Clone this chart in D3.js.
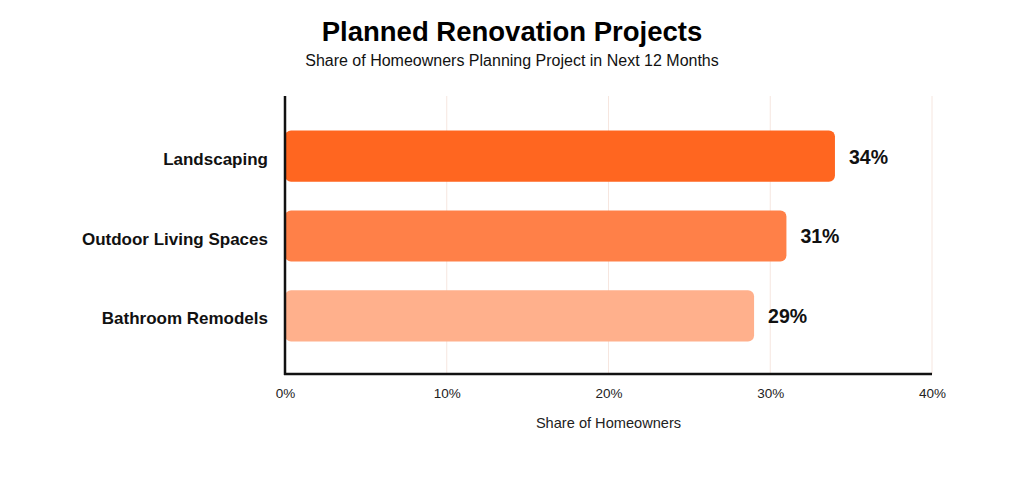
<!DOCTYPE html>
<html>
<head>
<meta charset="utf-8">
<script src="https://cdn.jsdelivr.net/npm/d3@7"></script>
<style>
  body { margin: 0; background: #fff; }
  text { font-family: "Liberation Sans", Arial, sans-serif; }
</style>
</head>
<body>
<svg id="chart" width="1024" height="478"></svg>
<script>
// data
const categories = ['Landscaping', 'Outdoor Living Spaces', 'Bathroom Remodels'];
const shares = [34, 31, 29];
const barColors = ['#ff6620', '#ff8048', '#ffb08c'];
const tickValues = [0, 10, 20, 30, 40];

const svg = d3.select('#chart');

const plotTop = 96, plotBottom = 374;
const plotLeft = 285, plotRight = 932;

const xScale = d3.scaleLinear()
    .domain([0, 40])
    .range([plotLeft, plotRight]);

const yScale = d3.scaleBand()
    .domain(categories)
    .range([plotTop + 1, plotBottom + 1])
    .paddingInner(0.36)
    .paddingOuter(0.42);

// gridlines
svg.append('g')
    .selectAll('line')
    .data(tickValues.slice(1))
    .enter().append('line')
    .attr('x1', d => xScale(d))
    .attr('x2', d => xScale(d))
    .attr('y1', plotTop)
    .attr('y2', plotBottom)
    .attr('stroke', '#f6e6df')
    .attr('stroke-width', 1);

// bars
svg.append('g')
    .selectAll('rect')
    .data(categories)
    .enter().append('rect')
    .attr('x', xScale(0))
    .attr('y', d => yScale(d))
    .attr('width', (d, i) => xScale(shares[i]) - xScale(0))
    .attr('height', yScale.bandwidth())
    .attr('rx', 6)
    .attr('ry', 6)
    .attr('fill', (d, i) => barColors[i]);

// value labels
svg.append('g')
    .selectAll('text')
    .data(categories)
    .enter().append('text')
    .attr('x', (d, i) => xScale(shares[i]) + 14)
    .attr('y', d => yScale(d) + yScale.bandwidth() / 2)
    .attr('dy', '0.38em')
    .attr('font-size', 19.5)
    .attr('font-weight', 'bold')
    .attr('fill', '#111')
    .text((d, i) => shares[i] + '%');

// y axis (category labels)
const yAxis = svg.append('g')
    .attr('transform', `translate(${plotLeft},0)`)
    .call(d3.axisLeft(yScale).tickSize(0).tickPadding(17));
yAxis.select('.domain').remove();
yAxis.selectAll('text')
    .attr('dy', '0.5em')
    .attr('font-size', 17)
    .attr('font-weight', 'bold')
    .attr('fill', '#111')
    .style('font-family', '"Liberation Sans", Arial, sans-serif');

// axis lines
svg.append('line')
    .attr('x1', plotLeft).attr('x2', plotLeft)
    .attr('y1', plotTop).attr('y2', plotBottom + 1)
    .attr('stroke', '#111').attr('stroke-width', 2.5);
svg.append('line')
    .attr('x1', plotLeft - 1).attr('x2', plotRight)
    .attr('y1', plotBottom).attr('y2', plotBottom)
    .attr('stroke', '#111').attr('stroke-width', 2.5);

// x axis ticks
const xAxis = svg.append('g')
    .attr('transform', `translate(0,${plotBottom})`)
    .call(d3.axisBottom(xScale).tickValues(tickValues).tickSize(0).tickPadding(14)
        .tickFormat(d => d + '%'));
xAxis.select('.domain').remove();
xAxis.selectAll('text')
    .attr('font-size', 13.5)
    .attr('fill', '#222')
    .style('font-family', '"Liberation Sans", Arial, sans-serif');

// axis title
svg.append('text')
    .attr('x', (plotLeft + plotRight) / 2)
    .attr('y', 428)
    .attr('text-anchor', 'middle')
    .attr('font-size', 14.6)
    .attr('fill', '#222')
    .text('Share of Homeowners');

// titles
svg.append('text')
    .attr('x', 512)
    .attr('y', 41)
    .attr('text-anchor', 'middle')
    .attr('font-size', 27.5)
    .attr('font-weight', 'bold')
    .attr('fill', '#000')
    .text('Planned Renovation Projects');

svg.append('text')
    .attr('x', 512)
    .attr('y', 66)
    .attr('text-anchor', 'middle')
    .attr('font-size', 16)
    .attr('fill', '#111')
    .text('Share of Homeowners Planning Project in Next 12 Months');
</script>
</body>
</html>
